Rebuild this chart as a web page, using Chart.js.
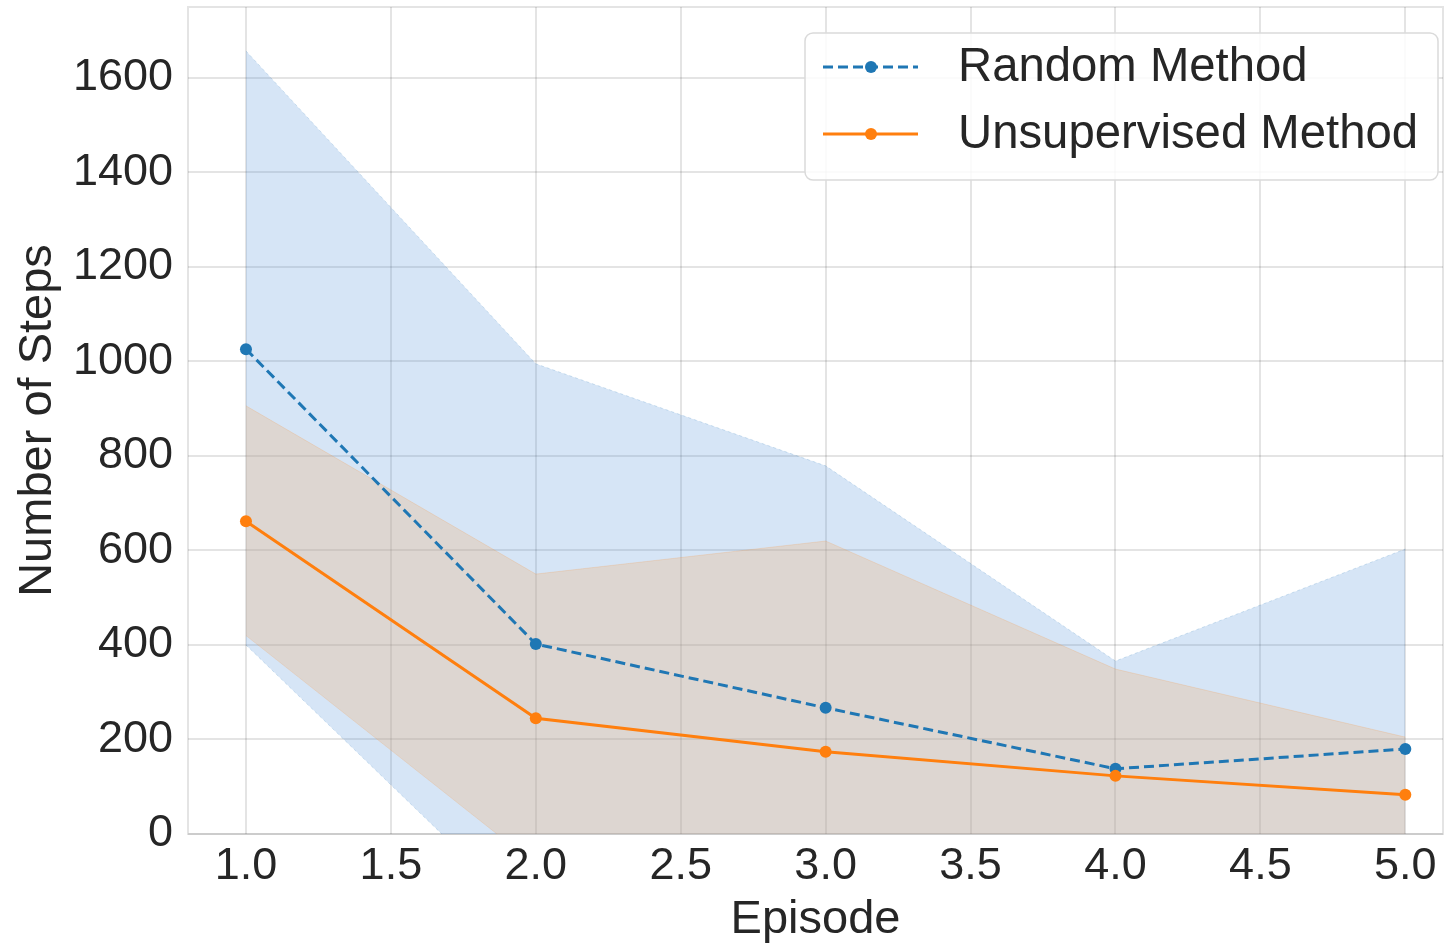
<!DOCTYPE html>
<html>
<head>
<meta charset="utf-8">
<script src="https://cdn.jsdelivr.net/npm/chart.js@4/dist/chart.umd.min.js"></script>
<style>
  body { margin: 0; background: #fff; }
</style>
</head>
<body>
<canvas id="stepsChart" width="1445" height="943"></canvas>
<script>
// data
let episodes = [1, 2, 3, 4, 5]
let randomMean = [1026, 402, 267, 138, 180]
let randomUpper = [1657, 995, 779, 366, 603]
let randomLower = [400, -192, -245, -90, -243]
let unsupMean = [662, 245, 174, 123, 83]
let unsupUpper = [906, 550, 620, 349, 205]
let unsupLower = [420, -65, -272, -103, -39]
let xTicks = [1.0, 1.5, 2.0, 2.5, 3.0, 3.5, 4.0, 4.5, 5.0]
let yTicks = [0, 200, 400, 600, 800, 1000, 1200, 1400, 1600]
let seriesNames = ['Random Method', 'Unsupervised Method']

const blue = '#1f77b4'
const orange = '#ff7f0e'
const textColor = '#262626'
const gridColor = 'rgba(0,0,0,0.105)'
const fontFamily = '"Liberation Sans", Arial, Helvetica, sans-serif'

function toPoints(values) {
    return values.map((v, i) => ({ x: episodes[i], y: v }))
}

// plot frame (seaborn whitegrid look)
const framePlugin = {
    id: 'frame',
    beforeDatasetsDraw(chart) {
        const { ctx, chartArea } = chart
        ctx.save()
        ctx.strokeStyle = gridColor
        ctx.lineWidth = 2
        ctx.strokeRect(chartArea.left, chartArea.top, chartArea.right - chartArea.left, chartArea.bottom - chartArea.top)
        ctx.restore()
    }
}

// legend drawn inside the plot, top right
const legendPlugin = {
    id: 'boxLegend',
    afterDraw(chart) {
        const ctx = chart.ctx
        const bx = 805, by = 33, bw = 633, bh = 147, r = 8
        ctx.save()
        ctx.beginPath()
        ctx.roundRect(bx, by, bw, bh, r)
        ctx.fillStyle = 'rgba(255,255,255,0.85)'
        ctx.fill()
        ctx.strokeStyle = '#dadada'
        ctx.lineWidth = 1.5
        ctx.stroke()

        const rows = [
            { y: 67, color: blue, dash: [10, 5], label: seriesNames[0] },
            { y: 134, color: orange, dash: [], label: seriesNames[1] }
        ]
        rows.forEach(row => {
            ctx.beginPath()
            ctx.setLineDash(row.dash)
            ctx.strokeStyle = row.color
            ctx.lineWidth = 3
            ctx.moveTo(823, row.y)
            ctx.lineTo(918, row.y)
            ctx.stroke()
            ctx.setLineDash([])
            ctx.beginPath()
            ctx.arc(871, row.y, 6, 0, Math.PI * 2)
            ctx.fillStyle = row.color
            ctx.fill()
            ctx.fillStyle = textColor
            ctx.font = '47.3px ' + fontFamily
            ctx.textBaseline = 'middle'
            ctx.textAlign = 'left'
            ctx.fillText(row.label, 958, row.y + 1)
        })
        ctx.restore()
    }
}

const ctx = document.getElementById('stepsChart').getContext('2d')
const stepsChart = new Chart(ctx, {
    type: 'line',
    data: {
        datasets: [
            {
                label: seriesNames[0],
                data: toPoints(randomMean),
                borderColor: blue,
                backgroundColor: blue,
                borderWidth: 3,
                borderDash: [10, 5],
                pointRadius: 6,
                pointBorderWidth: 0,
                fill: false,
                order: 1
            },
            {
                label: seriesNames[1],
                data: toPoints(unsupMean),
                borderColor: orange,
                backgroundColor: orange,
                borderWidth: 3,
                pointRadius: 6,
                pointBorderWidth: 0,
                fill: false,
                order: 0
            },
            {
                label: 'random upper',
                data: toPoints(randomUpper),
                borderColor: 'rgba(31,119,180,0.18)',
                borderWidth: 1,
                borderDash: [3, 3],
                backgroundColor: 'rgba(50,125,210,0.2)',
                pointRadius: 0,
                fill: { target: 3 },
                order: 4
            },
            {
                label: 'random lower',
                data: toPoints(randomLower),
                borderColor: 'rgba(31,119,180,0.18)',
                borderWidth: 1,
                borderDash: [3, 3],
                pointRadius: 0,
                fill: false,
                order: 5
            },
            {
                label: 'unsup upper',
                data: toPoints(unsupUpper),
                borderColor: 'rgba(255,127,14,0.15)',
                borderWidth: 1,
                backgroundColor: 'rgba(237,179,123,0.3)',
                pointRadius: 0,
                fill: { target: 5 },
                order: 2
            },
            {
                label: 'unsup lower',
                data: toPoints(unsupLower),
                borderColor: 'rgba(255,127,14,0.15)',
                borderWidth: 1,
                pointRadius: 0,
                fill: false,
                order: 3
            }
        ]
    },
    options: {
        responsive: false,
        animation: false,
        devicePixelRatio: 1,
        layout: { autoPadding: false, padding: { top: 7, right: 2, left: 0, bottom: 0 } },
        plugins: {
            legend: { display: false },
            tooltip: { enabled: false }
        },
        scales: {
            x: {
                type: 'linear',
                min: 0.8,
                max: 5.13,
                afterBuildTicks: scale => { scale.ticks = xTicks.map(v => ({ value: v })) },
                afterFit: scale => {
                    scale.height = 109
                    scale.paddingLeft = 0
                    scale.paddingRight = 0
                },
                grid: { color: gridColor, lineWidth: 2, drawTicks: false },
                border: { display: false },
                ticks: {
                    padding: 6,
                    color: textColor,
                    font: { family: fontFamily, size: 45 },
                    callback: v => v.toFixed(1)
                },
                title: {
                    display: true,
                    text: 'Episode',
                    color: textColor,
                    font: { family: fontFamily, size: 47 },
                    padding: { top: 0, bottom: -5 }
                }
            },
            y: {
                min: 0,
                max: 1750,
                afterBuildTicks: scale => { scale.ticks = yTicks.map(v => ({ value: v })) },
                afterFit: scale => {
                    scale.width = 188
                    scale.paddingTop = 0
                    scale.paddingBottom = 0
                },
                grid: { color: gridColor, lineWidth: 2, drawTicks: false },
                border: { display: false },
                ticks: {
                    padding: 15,
                    color: textColor,
                    font: { family: fontFamily, size: 45 },
                    callback: v => String(v)
                },
                title: {
                    display: true,
                    text: 'Number of Steps',
                    color: textColor,
                    font: { family: fontFamily, size: 47 },
                    padding: { top: 10, bottom: 0 }
                }
            }
        }
    },
    plugins: [framePlugin, legendPlugin]
});
</script>
</body>
</html>
